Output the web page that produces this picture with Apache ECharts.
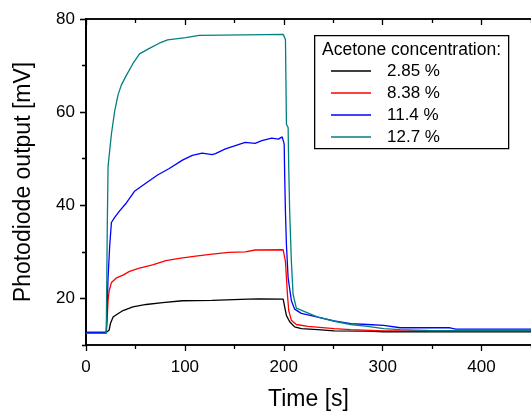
<!DOCTYPE html>
<html><head><meta charset="utf-8">
<script src="https://cdn.jsdelivr.net/npm/echarts@6/dist/echarts.min.js"></script>
<style>html,body{margin:0;padding:0;background:#fff}#c{width:531px;height:416px}</style>
</head><body><div id="c"></div>
<script>
// ---- data ----
const seriesNames = ['2.85 %', '8.38 %', '11.4 %', '12.7 %'];
const xTicks = [0, 100, 200, 300, 400];
const xMinorTicks = [50, 150, 250, 350, 450];
const yTicks = [20, 40, 60, 80];
const yMinorTicks = [10, 30, 50, 70];
const black = [[0,12.7],[20.5,12.7],[21.5,12.7],[23.4,13.2],[24.7,14.6],[27.4,16.0],[30.7,16.5],[37.4,17.4],[47.4,18.2],[60.8,18.7],[77.5,19.1],[97.5,19.5],[127.5,19.6],[164,19.85],[175,19.9],[199.4,19.85],[201,18.1],[202.7,16.3],[206,15.0],[211,13.9],[217.7,13.5],[234.4,13.3],[251,13.05],[284.6,12.97],[301,12.84],[450,12.84]];
const red = [[0,12.6],[20.5,12.6],[21.3,15],[22.3,19.5],[23.4,21.6],[25.7,23.4],[30.7,24.4],[37.4,25.0],[44,25.8],[54,26.5],[67.4,27.2],[80.8,28.1],[94.2,28.6],[110.9,29.1],[127.6,29.5],[144.3,29.9],[161,30.0],[171,30.4],[199.4,30.45],[200.4,30.4],[201.7,27.9],[202.7,24.4],[203.7,20.9],[205,17.4],[207.7,15.3],[212.7,14.4],[224.4,14.0],[251,13.5],[267.7,13.3],[301,13.05],[450,13.05]];
const blue = [[0,12.7],[20.5,12.7],[22.3,24.4],[24,31.4],[25.7,36.3],[29,37.4],[34,38.8],[40.8,40.5],[49,43.0],[60.8,44.8],[72.4,46.5],[84.2,47.9],[97.5,49.7],[107.5,50.7],[117.5,51.2],[127.5,50.9],[130.9,51.1],[141,52.1],[151,52.8],[161,53.5],[171,53.3],[177.8,53.9],[187.8,54.4],[194.5,54.2],[198.4,54.7],[200.4,53.2],[201,45.5],[201.7,38.4],[202.7,31.4],[204.4,24.4],[207.7,19.5],[211,17.7],[217.7,16.8],[234.4,16.0],[251,15.2],[267.7,14.6],[284.6,14.4],[301,14.2],[317.8,13.7],[368,13.7],[374,13.4],[450,13.4]];
const teal = [[0,12.5],[20.5,12.5],[21.5,35],[22.3,48.3],[25.7,55.3],[29,60.2],[32.4,63.7],[35.7,65.8],[40.8,67.9],[47.4,70.4],[54.1,72.5],[64.1,73.7],[74.1,74.8],[82.5,75.5],[100.9,76.0],[114.3,76.5],[161,76.6],[199.4,76.7],[201.7,75.6],[202.7,57.4],[204.4,56.7],[205,48.3],[206,38.4],[207.7,27.9],[209.4,20.9],[212.7,17.9],[234.4,16.0],[251,15.1],[267.7,14.4],[284.6,14.0],[301,13.5],[317.7,13.3],[350,13.1],[450,13.1]];
const colors = ['#000000', '#ff0000', '#0000ff', '#008080'];
const seriesData = [black, red, blue, teal];

const FONT = 'Liberation Sans, Arial, sans-serif';
const axisLine = { show: true, lineStyle: { color: '#000', width: 1.5 } };
function xAx(pos, inside, vals, len, labels, extra) {
  return Object.assign({
    type: 'value', position: pos, min: 0, max: 450,
    axisLine: axisLine, splitLine: { show: false },
    axisTick: { show: true, inside: inside, length: len, customValues: vals, lineStyle: { color: '#000', width: 1.3 } },
    axisLabel: labels ? { show: true, customValues: vals, margin: 14, color: '#000', fontSize: 17, fontFamily: FONT } : { show: false }
  }, extra || {});
}
function yAx(pos, inside, vals, len, labels, extra) {
  return Object.assign({
    type: 'value', position: pos, min: 10, max: 80,
    axisLine: axisLine, splitLine: { show: false },
    axisTick: { show: true, inside: inside, length: len, customValues: vals, lineStyle: { color: '#000', width: 1.3 } },
    axisLabel: labels ? { show: true, customValues: vals, margin: 11, color: '#000', fontSize: 17, fontFamily: FONT } : { show: false }
  }, extra || {});
}

const chart = echarts.init(document.getElementById('c'), null, { renderer: 'canvas' });
chart.setOption({
  animation: false,
  backgroundColor: '#fff',
  grid: { left: 86, right: -4, top: 19, bottom: 64, containLabel: false },
  xAxis: [
    xAx('bottom', false, xTicks, 6, true, { name: 'Time [s]', nameLocation: 'middle', nameGap: 43, nameTextStyle: { color: '#000', fontSize: 23, fontFamily: FONT } }),
    xAx('bottom', false, xMinorTicks, 4, false),
    xAx('top', true, xTicks, 6, false),
    xAx('top', true, xMinorTicks, 4, false)
  ],
  yAxis: [
    yAx('left', false, yTicks, 6, true, { name: 'Photodiode output [mV]', nameLocation: 'middle', nameGap: 51, nameRotate: 90, nameTextStyle: { color: '#000', fontSize: 23, fontFamily: FONT } }),
    yAx('left', false, yMinorTicks, 4, false),
    yAx('right', true, yTicks, 6, false),
    yAx('right', true, yMinorTicks, 4, false)
  ],
  legend: {
    orient: 'vertical', left: 331, top: 61,
    itemWidth: 40, itemHeight: 1.6, itemGap: 2, icon: 'rect',
    padding: 0,
    textStyle: { color: '#000', fontSize: 17, fontFamily: FONT, lineHeight: 20, padding: [0, 0, 0, 11] },
    data: seriesNames
  },
  graphic: [
    { type: 'rect', left: 314, top: 35, z: 0, shape: { width: 194, height: 113 }, style: { fill: '#fff', stroke: '#000', lineWidth: 1.3 } },
    { type: 'text', x: 322, y: 50, z: 1, style: { text: 'Acetone concentration:', fill: '#000', font: '17.5px ' + FONT, verticalAlign: 'middle' } }
  ],
  series: seriesData.map((d, i) => ({
    name: seriesNames[i], type: 'line', data: d, xAxisIndex: 0, yAxisIndex: 0,
    symbol: 'none', showSymbol: false, color: colors[i],
    lineStyle: { color: colors[i], width: 1.3 }, z: 2 + i
  }))
});
</script></body></html>
